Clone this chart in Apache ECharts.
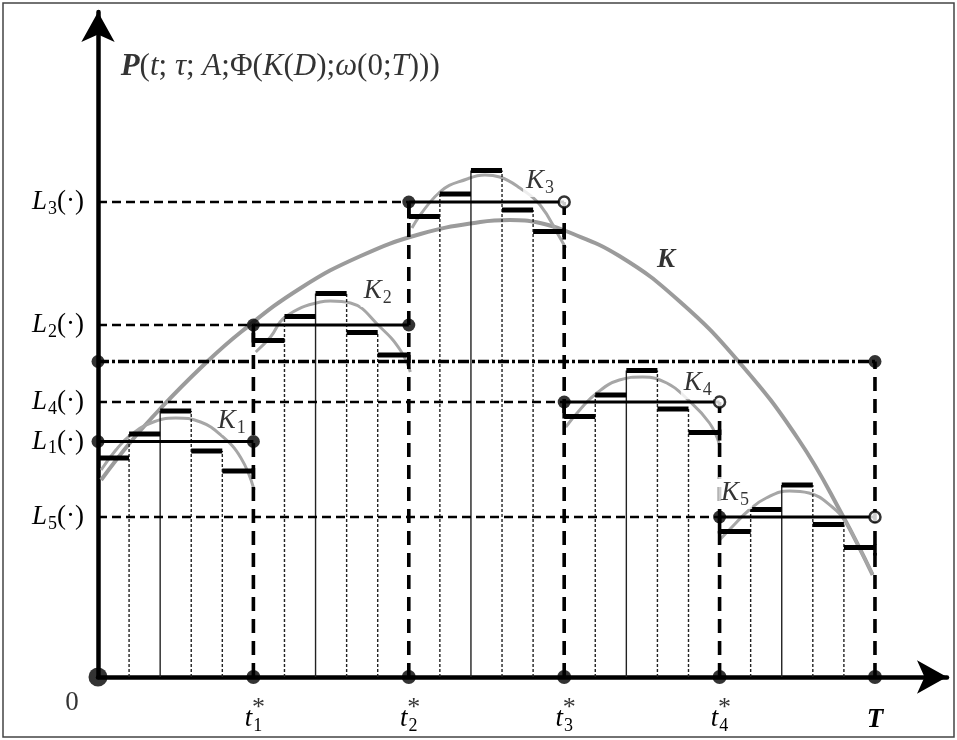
<!DOCTYPE html>
<html><head><meta charset="utf-8">
<script src="https://cdn.jsdelivr.net/npm/echarts@6/dist/echarts.min.js"></script>
<style>html,body{margin:0;padding:0;background:#fff}#c{width:957px;height:740px}</style>
</head><body><div id="c"></div>
<script>
// ---------------- data ----------------
const segmentEnds = [0, 20, 40, 60, 80, 100];          // 0, t1*, t2*, t3*, t4*, T
const xTickNames  = ['0', 't1', 't2', 't3', 't4', 'T'];
const levelNames  = ['L1', 'L2', 'L3', 'L4', 'L5'];
const levelValues = [47.1, 70.4, 95.0, 55.0, 32.0];
const meanLevel   = 63.1;
const steps1 = [43.8, 48.6, 53.2, 45.2, 41.2];
const steps2 = [67.3, 72.1, 76.7, 68.9, 64.4];
const steps3 = [92.1, 96.6, 101.3, 93.4, 89.1];
const steps4 = [52.1, 56.4, 61.3, 53.6, 48.9];
const steps5 = [29.1, 33.5, 38.4, 30.5, 25.9];
const curveK  = [[0.4,39.4],[4.2,47],[8.1,53.8],[13.2,61.8],[18.4,69],[26.1,77.8],[33.8,84.2],[41.5,88.6],[49.2,91],[53,91.4],[56.9,90.8],[60.2,89.2],[67.1,84.2],[74.8,75.2],[82.5,63],[90.2,47.4],[95.8,32.4],[99.7,20.4]];
const curveK1 = [[0.4,41.4],[2.3,45.4],[4.2,48.4],[6.8,50.8],[10,51.8],[13.2,51],[15.8,48.4],[18.4,43.8],[20.1,37.4]];
const curveK2 = [[20.3,65],[22.2,68],[24.1,72],[28.6,75],[29.9,75.2],[32.5,74.8],[36.3,70],[38.9,65.4],[40.2,61]];
const curveK3 = [[40.4,89.8],[44,97],[47.5,99.6],[49.8,100.4],[51.7,100],[54.3,97.8],[56.9,94.4],[59.4,88],[60.2,85.8]];
const curveK4 = [[60.2,50],[62,53.4],[64.2,56.8],[67.1,59.4],[70.1,60],[73.2,58.8],[75.7,55.8],[78.7,50.8],[80,46.4]];
const curveK5 = [[80,27.4],[81.6,30],[83.8,33.4],[86,35.8],[89,37.2],[91.5,36.8],[94.5,34],[96.3,30.8],[98.3,24.8],[99.7,20.6]];
const curveNames = ['K1', 'K2', 'K3', 'K4', 'K5'];
const levelEndOpen = [false, false, true, true, true];

// ---------------- layout / annotation config ----------------
const localLabelAt = [[17.2,51.2],[36,77.2],[56.9,99.2],[77.2,58.8],[82,36.8]];
const bigLabelAt = [73.1, 83.4];
const titleAt = [2.4, 122];

const F = '"Liberation Serif","Times New Roman","DejaVu Serif",serif';
const base = {fontFamily: F, fontSize: 27, color: '#000'};
const rich = {
  i:   Object.assign({}, base, {fontStyle: 'italic'}),
  n:   Object.assign({}, base),
  bi:  Object.assign({}, base, {fontStyle: 'italic', fontWeight: 'bold'}),
  sub: Object.assign({}, base, {fontSize: 18, padding: [14, 0, 0, 1]}),
  star:Object.assign({}, base, {fontSize: 26}),
  T:   Object.assign({}, base, {fontStyle: 'italic', fontWeight: 'bold', padding: [4, 0, 0, 0]}),
  ti:  Object.assign({}, base, {fontSize: 31, fontStyle: 'italic'}),
  tn:  Object.assign({}, base, {fontSize: 31}),
  tb:  Object.assign({}, base, {fontSize: 31, fontStyle: 'italic', fontWeight: 'bold'})
};

// ---------------- build line pieces ----------------
const stepsAll = [steps1, steps2, steps3, steps4, steps5];
const ST = {LEVEL: 0, GUIDE: 1, TSTAR: 2, MEAN: 3, TOP: 4, INNER: 5, INNER_SOLID: 6, LINK: 7};
const styleOf = [
  {stroke: '#000', lineWidth: 3},
  {stroke: '#000', lineWidth: 2.6, lineDash: [9, 5]},
  {stroke: '#000', lineWidth: 3.6, lineDash: [14, 8]},
  {stroke: '#000', lineWidth: 3.4, lineDash: [11, 3, 3, 3]},
  {stroke: '#000', lineWidth: 5},
  {stroke: '#222', lineWidth: 1.4, lineDash: [3, 2]},
  {stroke: '#222', lineWidth: 1.4},
  {stroke: '#000', lineWidth: 3.6}
];
const pieces = [];
const P = (x0, y0, x1, y1, k) => pieces.push([x0, y0, x1, y1, k]);
for (let s = 0; s < 5; s++) {
  const a = segmentEnds[s], b = segmentEnds[s + 1], L = levelValues[s], st = stepsAll[s];
  const w = (b - a) / st.length;
  for (let j = 1; j < st.length; j++) {
    P(a + j * w, 0, a + j * w, Math.max(st[j - 1], st[j]), j === 2 ? ST.INNER_SOLID : ST.INNER);
  }
  if (s > 0) P(0, L, a, L, ST.GUIDE);
  P(a, L, b, L, ST.LEVEL);
  st.forEach((v, j) => P(a + j * w, v, a + (j + 1) * w, v, ST.TOP));
  if (s > 0) P(a, L, a, st[0] - 0.4, ST.LINK);
  P(b, st[st.length - 1] + 0.6, b, st[st.length - 1] - 1.6, ST.LINK);
}
P(0, meanLevel, 100, meanLevel, ST.MEAN);
for (let i = 1; i < segmentEnds.length; i++) {
  const top = i < 5 ? Math.max(levelValues[i - 1], levelValues[i]) : Math.max(levelValues[4], meanLevel);
  P(segmentEnds[i], 0, segmentEnds[i], top, ST.TSTAR);
}

const filledDots = [[0, meanLevel], [100, meanLevel]];
const openDots = [];
levelValues.forEach((L, s) => {
  filledDots.push([segmentEnds[s], L]);
  (levelEndOpen[s] ? openDots : filledDots).push([segmentEnds[s + 1], L]);
});
const axisDots = segmentEnds.slice(1).map(t => [t, 0]);
const starDots = segmentEnds.slice(1, 5).map(t => [t, 0]);

const chart = echarts.init(document.getElementById('c'), null, {renderer: 'canvas'});
const curveSeries = [curveK1, curveK2, curveK3, curveK4, curveK5].map((c, i) => ({
  name: curveNames[i], type: 'line', data: c, smooth: 0.45, showSymbol: false, z: 2,
  lineStyle: {color: '#a6a6a6', width: 3}, silent: true
}));

const option = {
  backgroundColor: '#fff',
  animation: false,
  grid: {left: 98, right: 10, top: 12, bottom: 63, containLabel: false, outerBoundsMode: 'none'},
  xAxis: {
    type: 'value', min: 0, max: 109.27, splitLine: {show: false},
    axisLine: {onZero: true, lineStyle: {color: '#000', width: 4.5}, symbol: ['none', 'arrow'], symbolSize: [25, 30]},
    axisTick: {show: false},
    axisLabel: {
      customValues: segmentEnds, margin: 26, rich: rich, color: '#000',
      formatter: v => {
        const i = segmentEnds.indexOf(v);
        if (i === 0) return '';
        if (i === 5) return '{T|T}';
        return '{i|t}{sub|' + xTickNames[i].slice(1) + '}';
      }
    }
  },
  yAxis: {
    type: 'value', min: 0, max: 133, splitLine: {show: false},
    axisLine: {lineStyle: {color: '#000', width: 4.5}, symbol: ['none', 'arrow'], symbolSize: [25, 30]},
    axisTick: {show: false},
    axisLabel: {
      customValues: levelValues, margin: 14, rich: rich, color: '#000',
      formatter: v => {
        const i = levelValues.indexOf(v);
        return '{i|L}{sub|' + levelNames[i].slice(1) + '}{n|(·)}';
      }
    }
  },
  graphic: [{type: 'rect', shape: {x: 3, y: 3, width: 951, height: 734}, style: {fill: 'none', stroke: '#444', lineWidth: 1.5}, z: 100}],
  series: [
    {name: 'K', type: 'line', data: curveK, smooth: 0.45, showSymbol: false, z: 1,
     lineStyle: {color: '#9b9b9b', width: 4}, silent: true},
    ...curveSeries,
    {type: 'custom', z: 5, silent: true, data: pieces,
     renderItem: (params, api) => {
       const p0 = api.coord([api.value(0), api.value(1)]);
       const p1 = api.coord([api.value(2), api.value(3)]);
       return {type: 'line', shape: {x1: p0[0], y1: p0[1], x2: p1[0], y2: p1[1]},
               style: Object.assign({fill: null}, styleOf[api.value(4)])};
     }},
    {type: 'scatter', data: filledDots, symbol: 'circle', symbolSize: 13, z: 8,
     itemStyle: {color: '#000'}, silent: true},
    {type: 'scatter', data: openDots, symbol: 'circle', symbolSize: 11, z: 8,
     itemStyle: {color: '#fff', borderColor: '#000', borderWidth: 2.5}, silent: true},
    {type: 'scatter', data: axisDots, symbol: 'circle', symbolSize: 14, z: 8,
     itemStyle: {color: '#000'}, silent: true},
    {type: 'scatter', data: [[0, 0]], symbol: 'circle', symbolSize: 19, z: 8,
     itemStyle: {color: '#000'}, silent: true,
     label: {show: true, position: 'inside', offset: [-26, 26], formatter: '{n|0}', rich: rich, color: '#000'}},
    {type: 'scatter', data: starDots, symbolSize: 0, z: 9, silent: true,
     label: {show: true, position: 'inside', offset: [5, 31], formatter: '{star|*}', rich: rich, color: '#000'}},
    {type: 'scatter', z: 10, silent: true, symbolSize: 0,
     data: localLabelAt.map((p, i) => ({value: p, label: {
       formatter: '{i|K}{sub|' + curveNames[i].slice(1) + '}',
       backgroundColor: i === 0 ? 'transparent' : '#fff'}})),
     label: {show: true, position: 'inside', rich: rich, color: '#000', padding: [0, 3, 0, 3]}},
    {type: 'scatter', z: 10, silent: true, symbolSize: 0, data: [bigLabelAt],
     label: {show: true, position: 'inside', rich: rich, color: '#000', formatter: '{bi|K}', backgroundColor: '#fff', padding: [0, 3, 0, 3]}},
    {type: 'scatter', z: 10, silent: true, symbolSize: 0, data: [titleAt],
     label: {show: true, position: 'right', distance: 0, rich: rich, color: '#000', backgroundColor: '#fff', padding: [4, 4, 4, 4],
       formatter: '{tb|P}{tn|(}{ti|t}{tn|; }{ti|τ}{tn|; }{ti|A}{tn|;Φ(}{ti|K}{tn|(}{ti|D}{tn|);}{ti|ω}{tn|(0;}{ti|T}{tn|)))}'}}
  ]
};
chart.setOption(option);
</script></body></html>
